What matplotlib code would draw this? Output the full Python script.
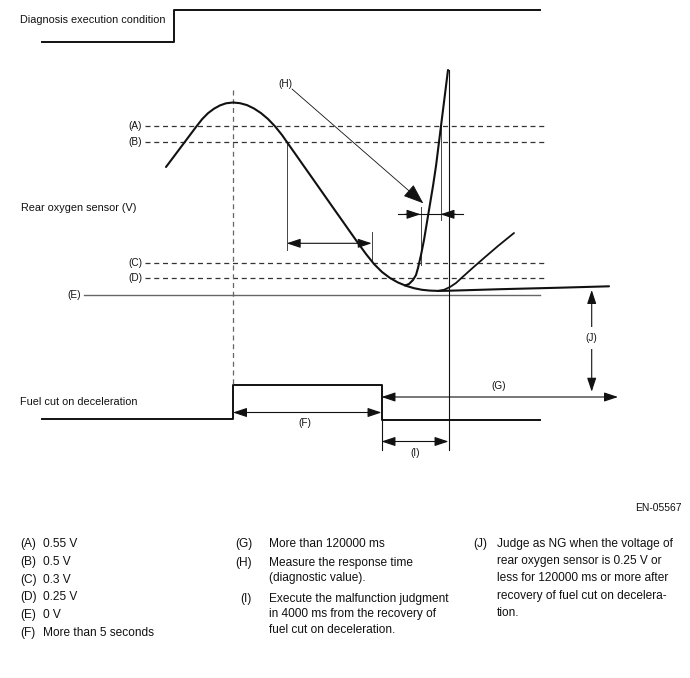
import matplotlib.pyplot as plt
from matplotlib.patches import FancyArrowPatch

plt.rcParams['font.family'] = ['Liberation Sans', 'DejaVu Sans']

# the diagram is laid out in pixel units of the original sheet, y grows downward
diag_x = [42, 174, 174, 540]
diag_y = [42, 42, 10, 10]

fuel_x = [42, 233, 233, 381.5, 381.5, 540]
fuel_y = [418.5, 418.5, 385, 385, 419.5, 419.5]

level_names = ['(A)', '(B)', '(C)', '(D)']
level_y = [126, 142, 263, 278]
e_y = 295

sensor_x = [166, 172, 178, 184, 190, 196, 202, 208, 214, 220, 226, 233, 240, 247, 254, 261,
            268, 275, 282, 289, 296, 303, 310, 318, 326, 334, 342, 350, 358, 366, 374, 382,
            390, 398, 406, 414, 422, 430, 438, 446, 460, 500, 560, 609]
sensor_y = [167, 159, 151, 143, 135, 127, 119.3, 113.2, 108.7, 105.4, 103.3, 102.5, 103.2,
            105.1, 108.5, 113.1, 119, 126.3, 135, 145, 154.9, 164.9, 174.8, 186.2, 197.6, 209,
            220.3, 231.7, 243, 254, 264, 272, 278, 282.5, 285.8, 288.2, 289.8, 290.6, 290.9,
            290.8, 290.4, 289.2, 287.7, 286.3]

spike_x = [405, 409, 413, 416, 418, 421, 424, 427, 430, 433, 436, 438, 440, 442, 444, 446, 448]
spike_y = [285.5, 284, 280, 275, 268, 255, 240, 222, 204, 186, 166, 150, 134, 118, 102, 86, 70]

recover_x = [438, 444, 450, 456, 462, 472, 484, 498, 514]
recover_y = [290.9, 289.8, 287, 283, 277.5, 268.5, 258, 246, 233]

legend_col1 = [('(A)', '0.55 V'), ('(B)', '0.5 V'), ('(C)', '0.3 V'),
               ('(D)', '0.25 V'), ('(E)', '0 V'), ('(F)', 'More than 5 seconds')]
legend_col2 = [('(G)', ['More than 120000 ms']),
               ('(H)', ['Measure the response time', '(diagnostic value).']),
               ('(I)', ['Execute the malfunction judgment', 'in 4000 ms from the recovery of',
                        'fuel cut on deceleration.'])]
legend_col3 = ('(J)', ['Judge as NG when the voltage of', 'rear oxygen sensor is 0.25 V or',
                       'less for 120000 ms or more after', 'recovery of fuel cut on decelera-',
                       'tion.'])

ink = '#111111'

fig = plt.figure(figsize=(6.9, 6.78), dpi=100)
ax = fig.add_axes([0, 0, 1, 1])
ax.set_xlim(0, 690)
ax.set_ylim(678, 0)
ax.axis('off')


def arrow(p0, p1, style='<|-|>', lw=0.8, scale=14, hl=0.6, hw=0.2):
    a = FancyArrowPatch(p0, p1, arrowstyle=f'{style},head_length={hl},head_width={hw}',
                        mutation_scale=scale, lw=lw, color=ink, shrinkA=0, shrinkB=0)
    ax.add_patch(a)


# step signals
ax.plot(diag_x, diag_y, color=ink, lw=1.4)
ax.plot(fuel_x, fuel_y, color=ink, lw=1.4)
ax.text(20, 20, 'Diagnosis execution condition', fontsize=7.8, va='center', color=ink)
ax.text(20, 402, 'Fuel cut on deceleration', fontsize=7.8, va='center', color=ink)
ax.text(21, 208, 'Rear oxygen sensor (V)', fontsize=7.8, va='center', color=ink)

# voltage levels
for name, y in zip(level_names, level_y):
    ax.plot([145, 545], [y, y], color='#333333', lw=0.9, dashes=(4, 3))
    ax.text(142, y, name, fontsize=7.2, ha='right', va='center', color=ink)
ax.plot([84, 540], [e_y, e_y], color='#666666', lw=1.0)
ax.text(81, e_y, '(E)', fontsize=7.2, ha='right', va='center', color=ink)

# guide lines
ax.plot([233, 233], [90, 385], color='#666666', lw=0.9, dashes=(4, 3))
ax.plot([286.7, 286.7], [141.7, 250], color='#444444', lw=0.7)
ax.plot([371.7, 371.7], [231.7, 262], color='#444444', lw=0.7)
ax.plot([420.5, 420.5], [207, 265], color='#444444', lw=0.7)
ax.plot([440.5, 440.5], [117, 220], color='#444444', lw=0.7)
ax.plot([448.5, 448.5], [70, 450], color=ink, lw=0.8)
ax.plot([381.5, 381.5], [419.5, 450], color=ink, lw=0.8)

# sensor curves
ax.plot(sensor_x, sensor_y, color=ink, lw=1.5, solid_capstyle='round', solid_joinstyle='round')
ax.plot(spike_x, spike_y, color=ink, lw=1.5, solid_capstyle='round', solid_joinstyle='round')
ax.plot(recover_x, recover_y, color=ink, lw=1.3, solid_capstyle='round', solid_joinstyle='round')

# dimension arrows
arrow((286.7, 243.3), (371.7, 243.3))
ax.plot([398, 463], [214.3, 214.3], color=ink, lw=0.8)
arrow((405, 214.3), (420.5, 214.3), style='-|>')
arrow((456, 214.3), (440.5, 214.3), style='-|>')
arrow((292, 89), (423.3, 203.3), style='-|>', lw=0.6, scale=16, hl=0.8, hw=0.3)
ax.text(285, 84, '(H)', fontsize=7.2, ha='center', va='center', color=ink)

arrow((233, 412.5), (381.5, 412.5))
ax.text(305, 423, '(F)', fontsize=7.2, ha='center', va='center', color=ink)
arrow((381.5, 397), (618, 397))
ax.text(499, 386, '(G)', fontsize=7.2, ha='center', va='center', color=ink)
arrow((381.5, 441.5), (448.5, 441.5))
ax.text(415, 453, '(I)', fontsize=7.2, ha='center', va='center', color=ink)
arrow((591.7, 290), (591.7, 391.7))
ax.text(591.7, 338, '(J)', fontsize=7.2, ha='center', va='center', color=ink,
        bbox=dict(facecolor='white', edgecolor='none', pad=4))

# notes
ax.text(682, 508, 'EN-05567', fontsize=7.4, ha='right', va='center', color=ink)
for i, (k, v) in enumerate(legend_col1):
    y = 544 + i * 17.8
    ax.text(20, y, k, fontsize=8.6, va='center', color=ink)
    ax.text(43, y, v, fontsize=8.6, va='center', color=ink)

row_y = [544, 563, 599]
for (k, lines), y in zip(legend_col2, row_y):
    ax.text(235 if k != '(I)' else 240, y, k, fontsize=8.6, va='center', color=ink)
    for j, line in enumerate(lines):
        ax.text(269, y + j * 15.5, line, fontsize=8.6, va='center', color=ink)

k, lines = legend_col3
ax.text(473, 544, k, fontsize=8.6, va='center', color=ink)
for j, line in enumerate(lines):
    ax.text(497, 544 + j * 17.2, line, fontsize=8.6, va='center', color=ink)

fig.savefig('out.png', dpi=100, facecolor='white')
